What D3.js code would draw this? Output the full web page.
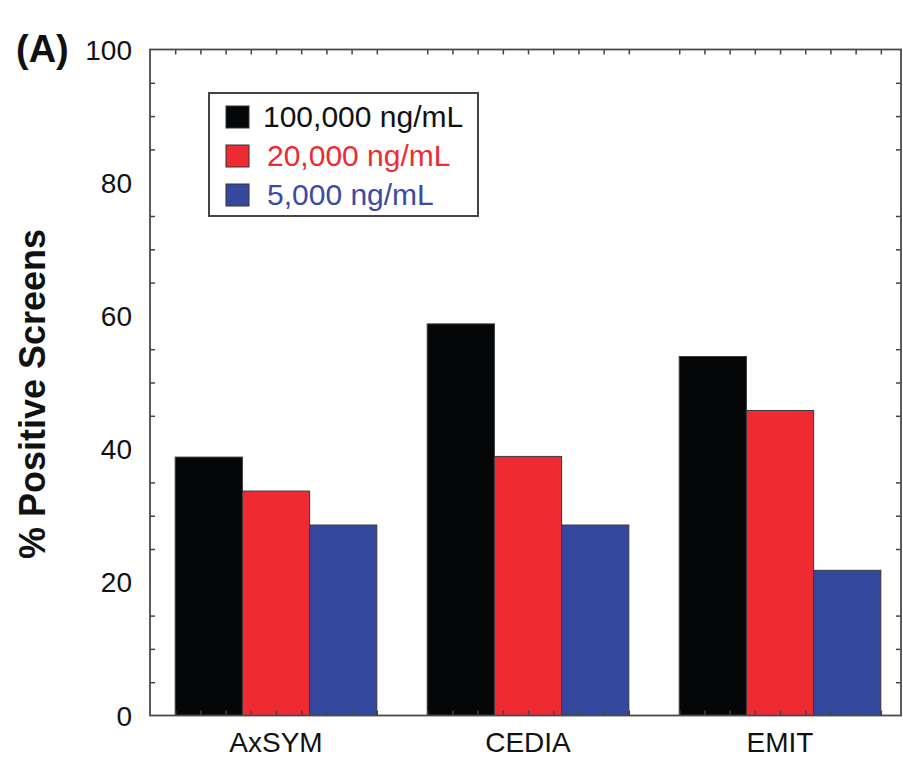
<!DOCTYPE html>
<html>
<head>
<meta charset="utf-8">
<script src="https://cdn.jsdelivr.net/npm/d3@7"></script>
<style>
  body { margin: 0; background: #fff; }
  text { font-family: "Liberation Sans", Arial, sans-serif; }
</style>
</head>
<body>
<div id="container"></div>
<script>
// data
let categories = ["AxSYM", "CEDIA", "EMIT"];
let seriesNames = ["100,000 ng/mL", "20,000 ng/mL", "5,000 ng/mL"];
let seriesColors = ["#050608", "#ee2a32", "#34489e"];
let legendTextColors = ["#111111", "#ee2a32", "#3a4aa6"];
let conc100000 = [38.8, 58.8, 53.9];
let conc20000 = [33.7, 38.9, 45.8];
let conc5000 = [28.6, 28.6, 21.8];
let yTickLabels = [0, 20, 40, 60, 80, 100];

let w = 903;
let h = 759;
let plotLeft = 150, plotRight = 901, plotTop = 49.5, plotBottom = 715.5;

let viz = d3.select("#container")
  .append("svg")
  .attr("width", w)
  .attr("height", h)
  .style("background", "#fff");

let allSeries = [conc100000, conc20000, conc5000];

// minor x units (tick spacing on the frame), plot ends just short of 30
let xUnits = d3.scaleLinear().domain([0, 29.8]).range([plotLeft, plotRight]);
let xScale = d3.scaleBand().domain(categories)
  .range([xUnits(0), xUnits(30)])
  .paddingInner(0.2).paddingOuter(0.1);
let xInner = d3.scaleBand().domain(d3.range(seriesNames.length))
  .range([0, xScale.bandwidth()]);
let yScale = d3.scaleLinear().domain([0, 100]).range([plotBottom, plotTop]);

// bars
let groups = viz.append("g").selectAll("g")
  .data(categories)
  .enter().append("g")
  .attr("transform", function(d) { return "translate(" + xScale(d) + ",0)"; });

groups.selectAll("rect")
  .data(function(d, i) { return allSeries.map(function(s, j) { return {s: j, v: s[i]}; }); })
  .enter().append("rect")
  .attr("x", function(d) { return xInner(d.s); })
  .attr("width", xInner.bandwidth())
  .attr("y", function(d) { return yScale(d.v); })
  .attr("height", function(d) { return yScale(0) - yScale(d.v); })
  .attr("fill", function(d) { return seriesColors[d.s]; })
  .attr("stroke", "#3a3a3a")
  .attr("stroke-width", 1);

// inward ticks, no mark at major positions
let xTickVals = d3.range(1, 30).filter(function(k) { return k % 10 != 0; });
let yTickVals = d3.range(5, 100, 5).filter(function(v) { return v % 20 != 0; });

let bottomAxis = d3.axisBottom(xUnits).tickValues(xTickVals).tickSize(-5).tickFormat("");
let topAxis = d3.axisTop(xUnits).tickValues(xTickVals).tickSize(-5).tickFormat("");
let leftAxis = d3.axisLeft(yScale).tickValues(yTickVals).tickSize(-5).tickFormat("");
let rightAxis = d3.axisRight(yScale).tickValues(yTickVals).tickSize(-5).tickFormat("");

viz.append("g").attr("transform", "translate(0," + plotBottom + ")").call(bottomAxis);
viz.append("g").attr("transform", "translate(0," + plotTop + ")").call(topAxis);
viz.append("g").attr("transform", "translate(" + plotLeft + ",0)").call(leftAxis);
viz.append("g").attr("transform", "translate(" + plotRight + ",0)").call(rightAxis);

viz.selectAll(".domain").remove();
viz.selectAll(".tick line").attr("stroke", "#444").attr("stroke-width", 1.5);

// frame
viz.append("rect")
  .attr("x", plotLeft).attr("y", plotTop)
  .attr("width", plotRight - plotLeft).attr("height", plotBottom - plotTop)
  .attr("fill", "none")
  .attr("stroke", "#4a4a4a")
  .attr("stroke-width", 1.8);

// y labels
viz.append("g").selectAll("text")
  .data(yTickLabels)
  .enter().append("text")
  .attr("x", 132)
  .attr("y", function(d) { return yScale(d); })
  .attr("dy", "0.36em")
  .attr("text-anchor", "end")
  .attr("font-size", 28)
  .attr("fill", "#111")
  .text(function(d) { return d; });

// x labels
viz.append("g").selectAll("text")
  .data(categories)
  .enter().append("text")
  .attr("x", function(d) { return xScale(d) + xScale.bandwidth() / 2; })
  .attr("y", 752)
  .attr("text-anchor", "middle")
  .attr("font-size", 28)
  .attr("fill", "#111")
  .text(function(d) { return d; });

// y title
viz.append("text")
  .attr("transform", "translate(45,394) rotate(-90)")
  .attr("text-anchor", "middle")
  .attr("font-size", 36)
  .attr("font-weight", "bold")
  .attr("fill", "#111")
  .text("% Positive Screens");

// panel label
viz.append("text")
  .attr("x", 16).attr("y", 62)
  .attr("font-size", 38)
  .attr("font-weight", "bold")
  .attr("fill", "#111")
  .text("(A)");

// legend
let legend = viz.append("g");
legend.append("rect")
  .attr("x", 209).attr("y", 93)
  .attr("width", 269).attr("height", 123)
  .attr("fill", "#fff")
  .attr("stroke", "#444")
  .attr("stroke-width", 2);

let rows = legend.selectAll(".row")
  .data(seriesNames)
  .enter().append("g")
  .attr("class", "row")
  .attr("transform", function(d, i) { return "translate(0," + (i * 39) + ")"; });

rows.append("rect")
  .attr("x", 226).attr("y", 106)
  .attr("width", 23).attr("height", 22)
  .attr("fill", function(d, i) { return seriesColors[i]; })
  .attr("stroke", "#333")
  .attr("stroke-width", 1);

rows.append("text")
  .attr("x", function(d, i) { return i == 0 ? 263 : 267; })
  .attr("y", 127)
  .attr("font-size", 30)
  .attr("fill", function(d, i) { return legendTextColors[i]; })
  .text(function(d) { return d; });
</script>
</body>
</html>
